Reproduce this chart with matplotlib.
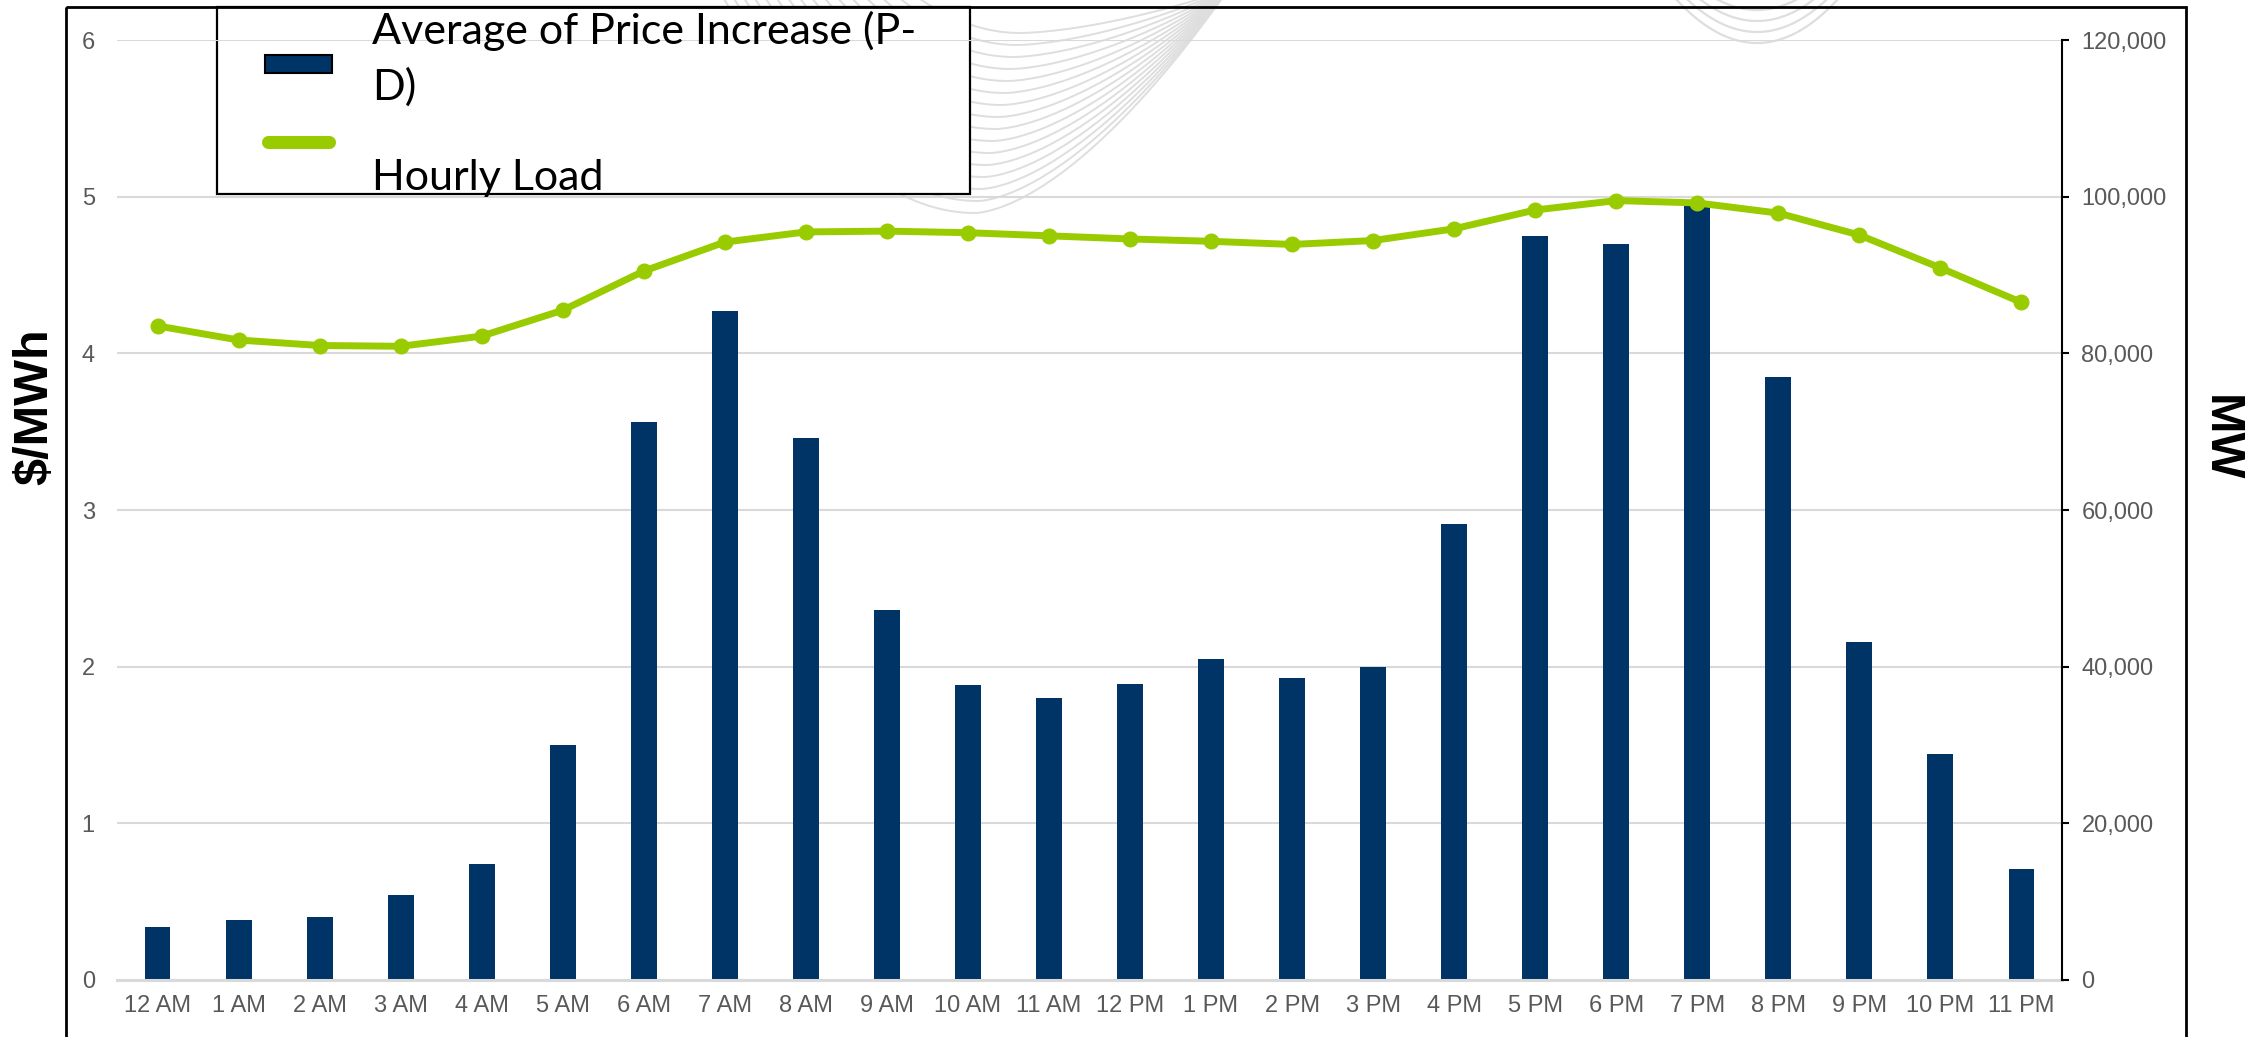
import numpy as np
import matplotlib.pyplot as plt
from matplotlib.patches import Rectangle
from matplotlib.lines import Line2D
from matplotlib.ticker import FuncFormatter

plt.rcParams['font.family'] = ['Liberation Sans', 'DejaVu Sans']

hours = ['12 AM', '1 AM', '2 AM', '3 AM', '4 AM', '5 AM', '6 AM', '7 AM', '8 AM',
         '9 AM', '10 AM', '11 AM', '12 PM', '1 PM', '2 PM', '3 PM', '4 PM', '5 PM',
         '6 PM', '7 PM', '8 PM', '9 PM', '10 PM', '11 PM']
price_increase = [0.34, 0.38, 0.40, 0.54, 0.74, 1.50, 3.56, 4.27, 3.46, 2.36, 1.88, 1.80,
                  1.89, 2.05, 1.93, 2.00, 2.91, 4.75, 4.70, 4.94, 3.85, 2.16, 1.44, 0.71]
hourly_load = [83500, 81700, 81000, 80900, 82200, 85500, 90500, 94200, 95500, 95600,
               95400, 95000, 94600, 94300, 93900, 94400, 95900, 98300, 99500, 99200,
               97900, 95100, 90900, 86500]
price_ticks = [0, 1, 2, 3, 4, 5, 6]
load_ticks = [0, 20000, 40000, 60000, 80000, 100000, 120000]

NAVY = '#003366'
GREEN = '#99cc00'
GRID = '#d9d9d9'
TICK = '#595959'

W, H = 2258, 1037
fig = plt.figure(figsize=(W / 100, H / 100), dpi=100)


def fx(px):
    return px / W


def fy(py):
    return 1 - py / H


# slide background: faint decorative curves, frame and legend box
bg = fig.add_axes([0, 0, 1, 1], zorder=-5)
bg.set_xlim(0, W)
bg.set_ylim(H, 0)
bg.axis('off')

for k in range(16):
    yb = 213 - 12 * k
    xb = 975 + 3 * k
    xr = np.linspace(xb, 1228, 80)
    yr = yb - (yb + 10) * ((xr - xb) / (1228 - xb)) ** 1.6
    xl = np.linspace(xb - 450, xb, 80)
    yl = yb - 0.0034 * (xb - xl) ** 2
    bg.plot(np.r_[xl, xr], np.r_[yl, yr], color='#dedede', lw=1.4, zorder=1)

for yb in [43, 32, 21, 10, -1]:
    xs = np.linspace(1600, 1900, 120)
    bg.plot(xs, yb - 0.0067 * (xs - 1757) ** 2, color='#dedede', lw=1.6, zorder=1)

bg.add_patch(Rectangle((217, 7), 753, 187, fc='white', ec='black', lw=1.6, zorder=2))
bg.add_patch(Rectangle((66, 7), 2186 - 66, 1300, fill=False, ec='black', lw=2.0, zorder=3))

# main chart
ax = fig.add_axes([fx(117), fy(980), fx(2062) - fx(117), fy(40) - fy(980)])
ax.set_facecolor('none')
x = np.arange(len(hours))
ax.bar(x, price_increase, width=0.32, color=NAVY, zorder=2)
ax.set_xlim(-0.5, len(hours) - 0.5)
ax.set_ylim(0, 6)
ax.set_yticks(price_ticks)
ax.set_xticks(x, hours)
ax.yaxis.grid(True, color=GRID, lw=1.5)
ax.set_axisbelow(True)
for s in ['left', 'right', 'top']:
    ax.spines[s].set_visible(False)
ax.spines['bottom'].set_color(GRID)
ax.spines['bottom'].set_linewidth(2.2)
ax.tick_params(axis='y', length=0, pad=16, labelsize=17, labelcolor=TICK)
ax.tick_params(axis='x', length=0, pad=11, labelsize=17, labelcolor=TICK)

ax2 = ax.twinx()
ax2.plot(x, hourly_load, color=GREEN, lw=5, marker='o', ms=10.5, zorder=3)
ax2.set_ylim(0, 120000)
ax2.set_yticks(load_ticks)
ax2.yaxis.set_major_formatter(FuncFormatter(lambda v, p: f'{v:,.0f}'))
for s in ['left', 'top', 'bottom']:
    ax2.spines[s].set_visible(False)
ax2.spines['right'].set_linewidth(1.5)
ax2.tick_params(axis='y', direction='out', length=5, width=1.5, color='black',
                pad=9, labelsize=17, labelcolor=TICK)

# axis titles
fig.text(fx(35), fy(407), '$/MWh', rotation=90, fontsize=35, fontweight='bold',
         ha='center', va='center')
fig.text(fx(2220), fy(438), 'MW', rotation=270, fontsize=35, fontweight='bold',
         ha='center', va='center')

# legend
leg_font = dict(fontsize=31, family=['Lato', 'DejaVu Sans'], color='black',
                va='baseline', ha='left', zorder=5)
fig.text(fx(372), fy(44), 'Average of Price Increase (P-', **leg_font)
fig.text(fx(372), fy(100), 'D)', **leg_font)
fig.text(fx(372), fy(190), 'Hourly Load', **leg_font)
fig.add_artist(Rectangle((fx(265), fy(73)), 67 / W, 18 / H, transform=fig.transFigure,
                         fc=NAVY, ec='black', lw=1.5, zorder=5))
fig.add_artist(Line2D([fx(268), fx(329)], [fy(142), fy(142)], transform=fig.transFigure,
                      color=GREEN, lw=9.4, solid_capstyle='round', zorder=5))

fig.savefig('out.png', dpi=100)
